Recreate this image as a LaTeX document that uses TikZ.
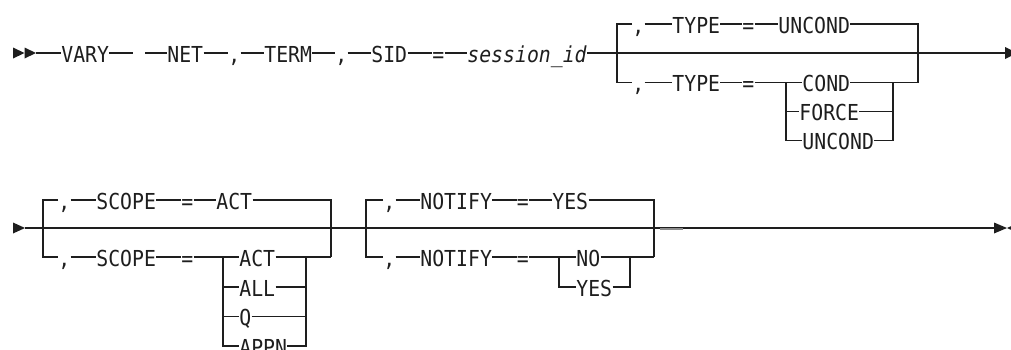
\documentclass[tikz,border=0pt]{standalone}
\usepackage{fontspec}
\newfontfamily\dfont{DejaVu Sans Mono}[FakeStretch=0.9]
\definecolor{ink}{HTML}{1E1E1E}
\tikzset{
  ln/.style={line width=1.1pt, draw=ink},
  kw/.style={font=\dfont\fontsize{22}{26}\selectfont, inner xsep=0.2pt, inner ysep=0pt,
             text height=20.5pt, text depth=2pt, anchor=west, text=ink},
  tip/.style={fill=ink},
}
\begin{document}
\begin{tikzpicture}[x=1pt,y=-1pt]
\useasboundingbox (0,0) rectangle (1011,349);
% ---------------- Row 1 ----------------
\fill[tip] (13,47.5) -- (24.5,53) -- (13,58.5) -- cycle;
\fill[tip] (24.5,47.5) -- (36,53) -- (24.5,58.5) -- cycle;
\coordinate (st1) at (36,53);
\node[kw] (vary) at (61,53) {VARY};
\coordinate (g1) at (133,53);
\coordinate (g2) at (145,53);
\node[kw] (net) at (167,53) {NET};
\node[kw] (c1) at (228,53) {,};
\node[kw] (term) at (264,53) {TERM};
\node[kw] (c2) at (335,53) {,};
\node[kw] (sid) at (371,53) {SID};
\node[kw] (eq1) at (432,53) {=};
\node[kw] (sess) at (467,53) {\itshape session\_id};
\coordinate (end1) at (1005,53);
\draw[ln] (st1) -- (vary.west);
\draw[ln] (vary.east) -- (g1);
\draw[ln] (g2) -- (net.west);
\draw[ln] (net.east) -- (c1.west);
\draw[ln] (c1.east) -- (term.west);
\draw[ln] (term.east) -- (c2.west);
\draw[ln] (c2.east) -- (sid.west);
\draw[ln] (sid.east) -- (eq1.west);
\draw[ln] (eq1.east) -- (sess.west);
\draw[ln] (sess.east) -- (end1);
\fill[tip] (1005,47) -- (1017,53) -- (1005,59) -- cycle;
% TYPE choice
\coordinate (L1t) at (617,24);
\coordinate (L1b) at (617,82.5);
\coordinate (R1b) at (918,82.5);
\coordinate (I1l) at (786,82.5);
\coordinate (I1r) at (893,82.5);
\node[kw] (c3) at (632,24) {,};
\node[kw] (type1) at (672,24) {TYPE};
\node[kw] (eq2) at (742,24) {=};
\node[kw] (uncond1) at (778,24) {UNCOND};
\node[kw] (c4) at (632,82.5) {,};
\node[kw] (type2) at (672,82.5) {TYPE};
\node[kw] (eq3) at (742,82.5) {=};
\node[kw] (cond) at (802,82.5) {COND};
\node[kw] (force) at (799,111.5) {FORCE};
\node[kw] (uncond2) at (802,140.5) {UNCOND};
\draw[ln] (c3.west) -- (L1t) -- (L1b) -- (c4.west);
\draw[ln] (c3.east) -- (type1.west);
\draw[ln] (type1.east) -- (eq2.west);
\draw[ln] (eq2.east) -- (uncond1.west);
\draw[ln] (uncond1.east) -| (R1b);
\draw[ln] (c4.east) -- (type2.west);
\draw[ln] (type2.east) -- (eq3.west);
\draw[ln] (eq3.east) -- (cond.west);
\draw[ln] (I1l) |- (force.west);
\draw[ln] (I1l) |- (uncond2.west);
\draw[ln] (cond.east) -- (R1b);
\draw[ln] (force.east) -- (force.east -| I1r);
\draw[ln] (uncond2.east) -| (I1r);
% ---------------- Row 2 ----------------
\fill[tip] (13,222.5) -- (25,228) -- (13,233.5) -- cycle;
\coordinate (st2) at (25,228);
\coordinate (end2) at (994,228);
\draw[ln] (st2) -- (end2);
\fill[tip] (994,222.5) -- (1007,228) -- (994,233.5) -- cycle;
\fill[tip] (1019,222.5) -- (1007,228) -- (1019,233.5) -- cycle;
\draw[line width=2pt, black!45] (660,229) -- (683,229);
% SCOPE choice
\coordinate (L2t) at (43,200);
\coordinate (L2b) at (43,257);
\coordinate (R2b) at (331,257);
\coordinate (I2l) at (223,257);
\coordinate (I2r) at (306,257);
\node[kw] (c5) at (58,200) {,};
\node[kw] (scope1) at (96,200) {SCOPE};
\node[kw] (eq4) at (181,200) {=};
\node[kw] (act1) at (216,200) {ACT};
\node[kw] (c6) at (58,257) {,};
\node[kw] (scope2) at (96,257) {SCOPE};
\node[kw] (eq5) at (181,257) {=};
\node[kw] (act2) at (239,257) {ACT};
\node[kw] (all) at (239,287) {ALL};
\node[kw] (q) at (239,316.5) {Q};
\node[kw] (appn) at (239,346) {APPN};
\draw[ln] (c5.west) -- (L2t) -- (L2b) -- (c6.west);
\draw[ln] (c5.east) -- (scope1.west);
\draw[ln] (scope1.east) -- (eq4.west);
\draw[ln] (eq4.east) -- (act1.west);
\draw[ln] (act1.east) -| (R2b);
\draw[ln] (c6.east) -- (scope2.west);
\draw[ln] (scope2.east) -- (eq5.west);
\draw[ln] (eq5.east) -- (act2.west);
\draw[ln] (I2l) |- (all.west);
\draw[ln] (I2l) |- (q.west);
\draw[ln] (I2l) |- (appn.west);
\draw[ln] (act2.east) -- (R2b);
\draw[ln] (all.east) -- (all.east -| I2r);
\draw[ln] (q.east) -- (q.east -| I2r);
\draw[ln] (appn.east) -| (I2r);
% NOTIFY choice
\coordinate (L3t) at (366,200);
\coordinate (L3b) at (366,257);
\coordinate (R3b) at (654,257);
\coordinate (I3l) at (559,257);
\coordinate (I3r) at (630,257);
\node[kw] (c7) at (383,200) {,};
\node[kw] (notify1) at (420,200) {NOTIFY};
\node[kw] (eq6) at (516.5,200) {=};
\node[kw] (yes1) at (552,200) {YES};
\node[kw] (c8) at (383,257) {,};
\node[kw] (notify2) at (420,257) {NOTIFY};
\node[kw] (eq7) at (516.5,257) {=};
\node[kw] (no) at (576,257) {NO};
\node[kw] (yes2) at (576,287) {YES};
\draw[ln] (c7.west) -- (L3t) -- (L3b) -- (c8.west);
\draw[ln] (c7.east) -- (notify1.west);
\draw[ln] (notify1.east) -- (eq6.west);
\draw[ln] (eq6.east) -- (yes1.west);
\draw[ln] (yes1.east) -| (R3b);
\draw[ln] (c8.east) -- (notify2.west);
\draw[ln] (notify2.east) -- (eq7.west);
\draw[ln] (eq7.east) -- (no.west);
\draw[ln] (I3l) |- (yes2.west);
\draw[ln] (no.east) -- (R3b);
\draw[ln] (yes2.east) -| (I3r);
\end{tikzpicture}
\end{document}
